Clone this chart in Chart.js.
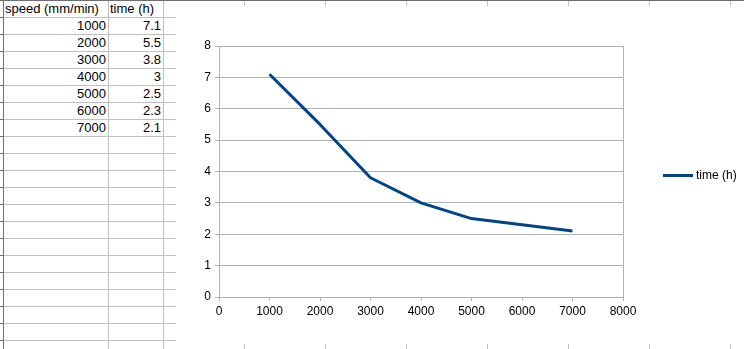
<!DOCTYPE html>
<html>
<head>
<meta charset="utf-8">
<script src="https://cdn.jsdelivr.net/npm/chart.js@4/dist/chart.umd.min.js"></script>
<style>
  html, body { margin: 0; padding: 0; background: #fff; }
  body { width: 744px; height: 349px; position: relative; overflow: hidden; font-family: "Liberation Sans", Arial, sans-serif; }
  #sheet { position: absolute; left: 0; top: 0; width: 744px; height: 349px; }
  .hline { position: absolute; height: 1px; background: #c0c0c0; }
  .vline { position: absolute; width: 1px; background: #c0c0c0; }
  .cell { position: absolute; height: 16px; line-height: 16px; font-size: 13px; color: #000; white-space: nowrap; }
  #chartBox { position: absolute; left: 176px; top: 6px; width: 568px; height: 338px; background: #fff; }
</style>
</head>
<body>
<div id="sheet"></div>
<div id="chartBox"><canvas id="chart" width="568" height="338"></canvas></div>
<script>
const headers = ["speed (mm/min)", "time (h)"];
const speeds = [1000, 2000, 3000, 4000, 5000, 6000, 7000];
const times = [7.1, 5.5, 3.8, 3, 2.5, 2.3, 2.1];
const lineColor = "#004586";

// spreadsheet backdrop
const sheet = document.getElementById("sheet");
const rowH = 17;
const colEdges = [3, 108, 163, 244, 325, 406, 487, 568, 649, 730];

function addDiv(cls, style, text) {
  const d = document.createElement("div");
  d.className = cls;
  Object.assign(d.style, style);
  if (text !== undefined) d.textContent = text;
  sheet.appendChild(d);
  return d;
}

for (let y = rowH; y < 349; y += rowH) {
  addDiv("hline", { left: "3px", top: y + "px", width: "741px" });
  addDiv("hline", { left: "0px", top: y + "px", width: "3px", background: "#6e6e6e" });
}
for (const x of colEdges.slice(1)) {
  addDiv("vline", { left: x + "px", top: "1px", height: "348px" });
}
addDiv("hline", { left: "0px", top: "0px", width: "744px", background: "#6e6e6e" });
addDiv("vline", { left: "3px", top: "0px", height: "349px", background: "#6e6e6e" });

addDiv("cell", { left: "5px", top: "1px" }, headers[0]);
addDiv("cell", { left: "110px", top: "1px" }, headers[1]);
speeds.forEach((s, i) => {
  const top = (i + 1) * rowH + 1 + "px";
  addDiv("cell", { left: "4px", top, width: "102px", textAlign: "right" }, String(s));
  addDiv("cell", { left: "109px", top, width: "52px", textAlign: "right" }, String(times[i]));
});

// chart
const gridColor = "#b3b3b3";
const font = { family: "'Liberation Sans', Arial, sans-serif", size: 12 };

const legendPlugin = {
  id: "sideLegend",
  afterDraw(chart) {
    const ctx = chart.ctx;
    const ds = chart.data.datasets[0];
    ctx.save();
    ctx.strokeStyle = ds.borderColor;
    ctx.lineWidth = 3;
    ctx.beginPath();
    ctx.moveTo(487, 169.5);
    ctx.lineTo(517, 169.5);
    ctx.stroke();
    ctx.fillStyle = "#000";
    ctx.font = "12px " + font.family;
    ctx.textBaseline = "middle";
    ctx.fillText(ds.label, 520, 170);
    ctx.restore();
  },
};

new Chart(document.getElementById("chart"), {
  type: "line",
  data: {
    datasets: [{
      label: headers[1],
      data: speeds.map((s, i) => ({ x: s, y: times[i] })),
      borderColor: lineColor,
      backgroundColor: lineColor,
      borderWidth: 3,
      pointRadius: 0,
      tension: 0,
      borderJoinStyle: "round",
    }],
  },
  options: {
    responsive: false,
    animation: false,
    layout: { padding: { top: 40, right: 121, left: 0, bottom: 0 } },
    plugins: { legend: { display: false }, tooltip: { enabled: false } },
    scales: {
      x: {
        type: "linear",
        min: 0,
        max: 8000,
        ticks: { stepSize: 1000, color: "#000", font, padding: 3, maxRotation: 0, callback: (v) => String(v) },
        grid: {
          color: (c) => (c.tick && c.tick.value === 8000 ? gridColor : "rgba(0,0,0,0)"),
          tickColor: gridColor,
          tickLength: 4,
        },
        border: { color: gridColor },
        afterFit: (scale) => { scale.height = 47; },
      },
      y: {
        min: 0,
        max: 8,
        ticks: { stepSize: 1, color: "#000", font, padding: 4 },
        grid: { color: gridColor, tickColor: gridColor, tickLength: 4 },
        border: { color: gridColor },
        afterFit: (scale) => { scale.width = 43; },
      },
    },
  },
  plugins: [legendPlugin],
});
</script>
</body>
</html>
